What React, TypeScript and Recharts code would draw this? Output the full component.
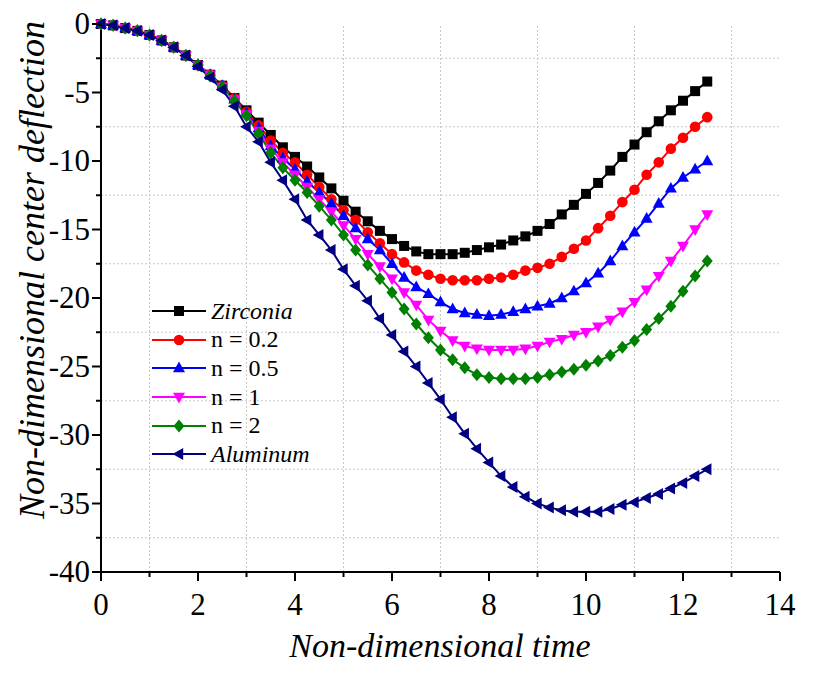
import React from 'react';
import { LineChart, Line, XAxis, YAxis, ReferenceLine } from 'recharts';

// non-dimensional time, step 0.25
const time = [
  0, 0.25, 0.5, 0.75, 1, 1.25, 1.5, 1.75, 2, 2.25, 2.5, 2.75, 3, 3.25, 3.5, 3.75, 4,
  4.25, 4.5, 4.75, 5, 5.25, 5.5, 5.75, 6, 6.25, 6.5, 6.75, 7, 7.25, 7.5, 7.75, 8,
  8.25, 8.5, 8.75, 9, 9.25, 9.5, 9.75, 10, 10.25, 10.5, 10.75, 11, 11.25, 11.5, 11.75,
  12, 12.25, 12.5,
];

const zirconia = [
  0, -0.1, -0.3, -0.5, -0.8, -1.2, -1.7, -2.3, -3.0, -3.7, -4.5, -5.4, -6.3, -7.2, -8.1,
  -9.0, -9.7, -10.4, -11.2, -12.0, -12.9, -13.7, -14.4, -15.1, -15.7, -16.2, -16.6, -16.8,
  -16.8, -16.8, -16.7, -16.5, -16.3, -16.1, -15.8, -15.5, -15.1, -14.6, -13.9, -13.2,
  -12.4, -11.6, -10.7, -9.7, -8.8, -7.9, -7.1, -6.3, -5.6, -4.9, -4.2,
];

const n02 = [
  0, -0.1, -0.3, -0.5, -0.8, -1.2, -1.7, -2.3, -3.0, -3.7, -4.5, -5.4, -6.4, -7.4, -8.5,
  -9.4, -10.1, -11.0, -11.9, -12.8, -13.6, -14.3, -15.2, -16.0, -16.8, -17.4, -18.0, -18.3,
  -18.6, -18.7, -18.7, -18.7, -18.6, -18.5, -18.3, -18.0, -17.8, -17.5, -17.0, -16.4,
  -15.8, -14.9, -14.0, -13.0, -12.1, -11.0, -10.1, -9.1, -8.3, -7.5, -6.8,
];

const n05 = [
  0, -0.1, -0.3, -0.5, -0.8, -1.2, -1.7, -2.3, -3.0, -3.7, -4.5, -5.5, -6.5, -7.6, -8.9,
  -9.8, -10.6, -11.5, -12.3, -13.1, -14.0, -14.9, -15.7, -16.5, -17.5, -18.5, -19.2, -19.7,
  -20.3, -20.8, -21.1, -21.2, -21.3, -21.2, -21.0, -20.8, -20.6, -20.4, -20.0, -19.5,
  -18.9, -18.2, -17.3, -16.2, -15.2, -14.2, -13.1, -12.0, -11.2, -10.6, -10.0,
];

const n1 = [
  0, -0.1, -0.3, -0.5, -0.8, -1.2, -1.7, -2.3, -3.0, -3.7, -4.6, -5.5, -6.6, -7.8, -9.1,
  -10.1, -11.0, -11.9, -12.8, -13.7, -14.7, -15.7, -16.8, -17.7, -18.6, -19.6, -20.5, -21.6,
  -22.4, -23.1, -23.5, -23.7, -23.8, -23.8, -23.8, -23.7, -23.5, -23.2, -23.0, -22.7,
  -22.5, -22.1, -21.6, -21.0, -20.3, -19.4, -18.4, -17.3, -16.2, -15.0, -13.9,
];

const n2 = [
  0, -0.1, -0.3, -0.5, -0.8, -1.2, -1.7, -2.3, -3.0, -3.8, -4.6, -5.6, -6.7, -8.0, -9.4,
  -10.5, -11.4, -12.3, -13.3, -14.3, -15.4, -16.5, -17.6, -18.6, -19.6, -20.8, -21.9, -22.9,
  -23.8, -24.5, -25.1, -25.6, -25.8, -25.9, -25.9, -25.9, -25.8, -25.6, -25.4, -25.2,
  -24.9, -24.6, -24.2, -23.6, -23.1, -22.3, -21.5, -20.6, -19.5, -18.4, -17.3,
];

const aluminum = [
  0, -0.1, -0.3, -0.5, -0.8, -1.2, -1.7, -2.3, -3.1, -3.9, -4.8, -6.0, -7.5, -8.6, -10.1,
  -11.4, -12.8, -14.3, -15.4, -16.5, -17.9, -19.1, -20.2, -21.5, -22.7, -23.9, -25.0, -26.2,
  -27.4, -28.7, -29.9, -31.0, -32.0, -33.0, -33.8, -34.5, -35.0, -35.3, -35.5, -35.6,
  -35.6, -35.6, -35.4, -35.1, -34.9, -34.6, -34.3, -33.9, -33.5, -33.0, -32.5,
];

const xTicks = [0, 1, 2, 3, 4, 5, 6, 7, 8, 9, 10, 11, 12, 13, 14];
const yTicks = [0, -2.5, -5, -7.5, -10, -12.5, -15, -17.5, -20, -22.5, -25, -27.5, -30, -32.5, -35, -37.5, -40];
const xGrid = [1, 3, 5, 7, 9, 11, 13];
const yGrid = [-2.5, -7.5, -12.5, -17.5, -22.5, -27.5, -32.5, -37.5];

type Shape = 'square' | 'circle' | 'up' | 'down' | 'diamond' | 'left';

const series: { key: string; name: string; color: string; shape: Shape; italic: boolean }[] = [
  { key: 'zirconia', name: 'Zirconia', color: '#000000', shape: 'square', italic: true },
  { key: 'n02', name: 'n = 0.2', color: '#ff0000', shape: 'circle', italic: false },
  { key: 'n05', name: 'n = 0.5', color: '#0000ff', shape: 'up', italic: false },
  { key: 'n1', name: 'n = 1', color: '#ff00ff', shape: 'down', italic: false },
  { key: 'n2', name: 'n = 2', color: '#008000', shape: 'diamond', italic: false },
  { key: 'aluminum', name: 'Aluminum', color: '#000080', shape: 'left', italic: true },
];

const data = time.map((t, i) => ({
  t,
  zirconia: zirconia[i],
  n02: n02[i],
  n05: n05[i],
  n1: n1[i],
  n2: n2[i],
  aluminum: aluminum[i],
}));

const FONT = "'Liberation Serif', 'Times New Roman', Times, serif";

const Marker = ({ shape, cx, cy, color }: { shape: Shape; cx: number; cy: number; color: string }) => {
  switch (shape) {
    case 'square':
      return <rect x={cx - 5} y={cy - 5} width={10} height={10} fill={color} />;
    case 'circle':
      return <circle cx={cx} cy={cy} r={5.3} fill={color} />;
    case 'up':
      return <polygon points={`${cx},${cy - 6.5} ${cx + 6},${cy + 4.2} ${cx - 6},${cy + 4.2}`} fill={color} />;
    case 'down':
      return <polygon points={`${cx},${cy + 6.5} ${cx + 6},${cy - 4.2} ${cx - 6},${cy - 4.2}`} fill={color} />;
    case 'diamond':
      return <polygon points={`${cx},${cy - 6.5} ${cx + 5.5},${cy} ${cx},${cy + 6.5} ${cx - 5.5},${cy}`} fill={color} />;
    default:
      return <polygon points={`${cx - 6.5},${cy} ${cx + 4.2},${cy - 6} ${cx + 4.2},${cy + 6}`} fill={color} />;
  }
};

const XTick = (props: any) => {
  const { x, y, payload } = props;
  const major = payload.value % 2 === 0;
  return (
    <g>
      <line x1={x} x2={x} y1={y} y2={y + (major ? 9 : 5)} stroke="#000" strokeWidth={2} />
      {major && (
        <text x={x} y={y + 43} textAnchor="middle" style={{ fontFamily: FONT, fontSize: 31 }} fill="#000">
          {payload.value}
        </text>
      )}
    </g>
  );
};

const YTick = (props: any) => {
  const { x, y, payload } = props;
  const major = payload.value % 5 === 0;
  return (
    <g>
      <line x1={x} x2={x - (major ? 9 : 5)} y1={y} y2={y} stroke="#000" strokeWidth={2} />
      {major && (
        <text x={x - 11} y={y + 10} textAnchor="end" style={{ fontFamily: FONT, fontSize: 31 }} fill="#000">
          {payload.value}
        </text>
      )}
    </g>
  );
};

const LegendBox = () => (
  <div style={{ position: 'absolute', left: 150, top: 297, fontFamily: FONT, fontSize: 24 }}>
    {series.map((s) => (
      <div key={s.key} style={{ display: 'flex', alignItems: 'center', height: 28.6 }}>
        <svg width={58} height={20}>
          <line x1={2} x2={56} y1={10} y2={10} stroke={s.color} strokeWidth={2} />
          <Marker shape={s.shape} cx={29} cy={10} color={s.color} />
        </svg>
        <span style={{ fontStyle: s.italic ? 'italic' : 'normal', marginLeft: 3 }}>{s.name}</span>
      </div>
    ))}
  </div>
);

const App: React.FC = () => (
  <div style={{ position: 'relative', width: 817, height: 676, background: '#fff' }}>
    <style>{'body{margin:0}'}</style>
    <LineChart width={817} height={676} data={data} margin={{ top: 24, right: 37, left: 40, bottom: 44 }}>
      {xGrid.map((v) => (
        <ReferenceLine key={`gx${v}`} x={v} stroke="#c8c8c8" strokeDasharray="2 2" />
      ))}
      {yGrid.map((v) => (
        <ReferenceLine key={`gy${v}`} y={v} stroke="#c8c8c8" strokeDasharray="2 2" />
      ))}
      <XAxis
        type="number"
        dataKey="t"
        domain={[0, 14]}
        ticks={xTicks}
        interval={0}
        height={60}
        tickSize={0}
        tickMargin={0}
        tickLine={false}
        axisLine={{ stroke: '#000', strokeWidth: 2 }}
        tick={<XTick />}
      />
      <YAxis
        type="number"
        domain={[-40, 0]}
        ticks={yTicks}
        interval={0}
        width={61}
        tickSize={0}
        tickMargin={0}
        tickLine={false}
        axisLine={{ stroke: '#000', strokeWidth: 2 }}
        tick={<YTick />}
      />
      {series.map((s) => (
        <Line
          key={s.key}
          type="linear"
          dataKey={s.key}
          name={s.name}
          stroke={s.color}
          strokeWidth={2}
          isAnimationActive={false}
          dot={(p: any) => <Marker key={`${s.key}-${p.index}`} shape={s.shape} cx={p.cx} cy={p.cy} color={s.color} />}
          activeDot={false}
        />
      ))}
    </LineChart>
    <LegendBox />
    <div
      style={{
        position: 'absolute',
        left: 440,
        top: 627,
        transform: 'translateX(-50%)',
        whiteSpace: 'nowrap',
        fontFamily: FONT,
        fontStyle: 'italic',
        fontSize: 34,
      }}
    >
      Non-dimensional time
    </div>
    <div
      style={{
        position: 'absolute',
        left: 32,
        top: 270,
        transform: 'translate(-50%, -50%) rotate(-90deg)',
        whiteSpace: 'nowrap',
        fontFamily: FONT,
        fontStyle: 'italic',
        fontSize: 36,
      }}
    >
      Non-dimensional center deflection
    </div>
  </div>
);

export default App;
